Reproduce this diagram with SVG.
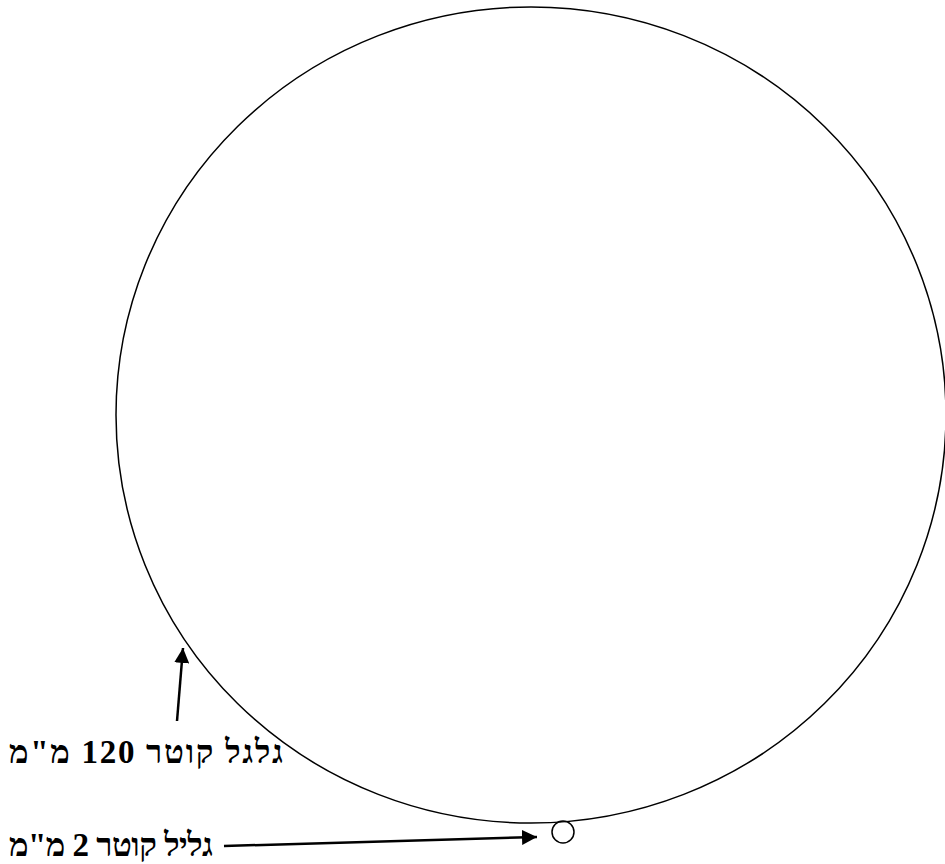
<svg xmlns="http://www.w3.org/2000/svg" width="945" height="864" viewBox="0 0 945 864">
<style>
.ln{fill:none;stroke:#000;stroke-width:1.5}
.ar{fill:none;stroke:#000;stroke-width:2.5}
.t{font-family:"Liberation Serif","Times New Roman",serif;font-weight:bold;font-size:33px;fill:#000}
</style>
<defs>
<marker id="ah" viewBox="0 0 10 10" refX="10" refY="5" markerWidth="6" markerHeight="6" markerUnits="strokeWidth" orient="auto">
<path d="M0,0 L10,5 L0,10 z" fill="#000"/>
</marker>
</defs>
<rect width="945" height="864" fill="#fff"/>
<g id="wheel"><ellipse class="ln" cx="531" cy="415" rx="415" ry="408"/></g>
<g id="roller"><circle class="ln" cx="563" cy="832" r="11"/></g>
<g id="connectors">
<line class="ar" x1="177" y1="721" x2="183" y2="648" marker-end="url(#ah)"/>
<line class="ar" x1="224" y1="846" x2="537" y2="837" marker-end="url(#ah)"/>
</g>
<g id="labels">
<text class="t" x="283" y="763" text-anchor="start" direction="rtl" textLength="274" lengthAdjust="spacing">גלגל קוטר 120 מ"מ</text>
<text class="t" x="213" y="856" text-anchor="start" direction="rtl" textLength="204" lengthAdjust="spacing">גליל קוטר 2 מ"מ</text>
</g>
</svg>
